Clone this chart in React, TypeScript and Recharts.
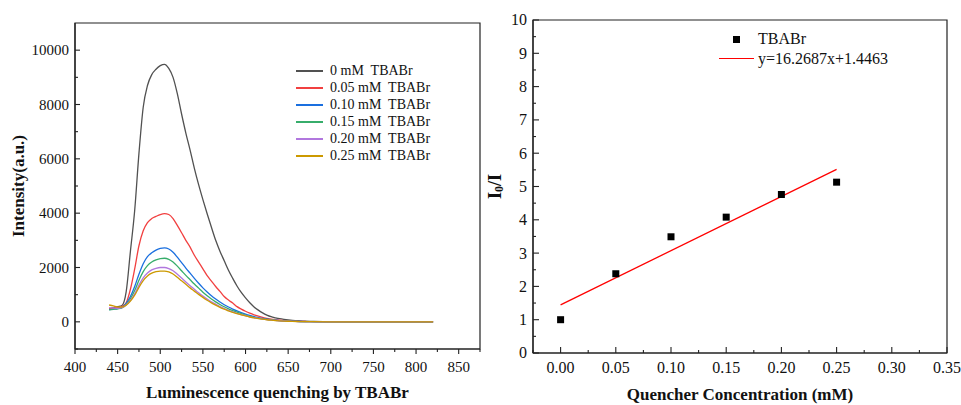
import React from "react";
import {
  LineChart,
  Line,
  XAxis,
  YAxis,
  ZAxis,
  ReferenceArea,
  Legend,
  ComposedChart,
  Scatter,
} from "recharts";

const FONT = "Liberation Serif, Times New Roman, serif";
const AXIS = "#222";

// emission spectra, intensity vs wavelength (nm)
const WAVELENGTHS = [
  440, 445, 450, 455, 460, 465, 470, 475, 480, 485, 490, 495, 500, 505, 510,
  515, 520, 525, 530, 535, 540, 545, 550, 555, 560, 565, 570, 575, 580, 585,
  590, 595, 600, 605, 610, 615, 620, 625, 630, 635, 640, 645, 650, 655, 660,
  670, 680, 700, 720, 750, 780, 820,
];
const I_000 = [
  470, 520, 560, 600, 1100, 2600, 4100, 6200, 7900, 8700, 9100, 9300, 9430,
  9480, 9330, 9000, 8400, 7650, 6950, 6320, 5650, 5050, 4500, 3980, 3480, 3000,
  2600, 2250, 1900, 1600, 1320, 1080, 880, 700, 550, 430, 330, 250, 190, 150,
  115, 90, 70, 55, 45, 25, 12, 5, 2, 1, 0, 0,
];
const I_005 = [
  470, 500, 520, 560, 700, 1200, 1950, 2800, 3350, 3650, 3800, 3880, 3950,
  3985, 3950, 3800, 3550, 3280, 3000, 2750, 2450, 2200, 1950, 1700, 1500, 1300,
  1120, 930, 800, 690, 560, 470, 390, 320, 260, 210, 165, 130, 100, 78, 60, 45,
  34, 26, 20, 12, 6, 3, 1, 1, 0, 0,
];
const I_010 = [
  450, 470, 490, 520, 680, 930, 1300, 1750, 2140, 2400, 2540, 2640, 2700, 2720,
  2680, 2560, 2380, 2180, 1980, 1790, 1600, 1420, 1250, 1100, 960, 840, 730,
  630, 545, 470, 400, 340, 285, 235, 190, 155, 125, 100, 78, 62, 48, 37, 28, 21,
  16, 9, 5, 2, 1, 0, 0, 0,
];
const I_015 = [
  440, 460, 480, 510, 640, 850, 1150, 1530, 1850, 2070, 2200, 2280, 2330, 2340,
  2300, 2200, 2050, 1880, 1710, 1550, 1390, 1240, 1090, 960, 840, 735, 640, 555,
  480, 415, 355, 300, 250, 205, 168, 137, 110, 88, 70, 55, 43, 33, 25, 19, 14,
  8, 4, 2, 1, 0, 0, 0,
];
const I_020 = [
  520, 510, 500, 520, 620, 790, 1030, 1350, 1620, 1800, 1910, 1970, 2000, 2000,
  1960, 1880, 1750, 1610, 1470, 1330, 1200, 1070, 950, 840, 740, 650, 565, 490,
  425, 365, 315, 268, 225, 185, 152, 124, 100, 80, 64, 51, 40, 31, 23, 17, 13,
  7, 4, 2, 1, 0, 0, 0,
];
const I_025 = [
  620, 590, 550, 540, 610, 760, 980, 1270, 1520, 1690, 1790, 1845, 1870, 1870,
  1835, 1760, 1640, 1510, 1380, 1250, 1130, 1010, 900, 795, 700, 615, 535, 465,
  405, 348, 300, 256, 215, 178, 146, 119, 96, 77, 62, 49, 38, 29, 22, 16, 12, 7,
  4, 2, 1, 0, 0, 0,
];

const SERIES = [
  { key: "c000", label: "0 mM  TBABr", color: "#515151", values: I_000 },
  { key: "c005", label: "0.05 mM  TBABr", color: "#F14040", values: I_005 },
  { key: "c010", label: "0.10 mM  TBABr", color: "#1A6FDF", values: I_010 },
  { key: "c015", label: "0.15 mM  TBABr", color: "#37AD6B", values: I_015 },
  { key: "c020", label: "0.20 mM  TBABr", color: "#B177DE", values: I_020 },
  { key: "c025", label: "0.25 mM  TBABr", color: "#CC9900", values: I_025 },
];

const SPEC_X_MAJOR = [400, 450, 500, 550, 600, 650, 700, 750, 800, 850];
const SPEC_X_MINOR = [425, 475, 525, 575, 625, 675, 725, 775, 825, 875];
const SPEC_Y_MAJOR = [0, 2000, 4000, 6000, 8000, 10000];
const SPEC_Y_MINOR = [-1000, 1000, 3000, 5000, 7000, 9000];

// Stern-Volmer plot
const CONC = [0, 0.05, 0.1, 0.15, 0.2, 0.25];
const RATIO = [1.0, 2.38, 3.49, 4.08, 4.76, 5.13];
const SLOPE = 16.2687;
const INTERCEPT = 1.4463;

const SV_X_MAJOR = [0, 0.05, 0.1, 0.15, 0.2, 0.25, 0.3, 0.35];
const SV_X_MINOR = [-0.025, 0.025, 0.075, 0.125, 0.175, 0.225, 0.275, 0.325];
const SV_Y_MAJOR = [0, 1, 2, 3, 4, 5, 6, 7, 8, 9, 10];
const SV_Y_MINOR = [0.5, 1.5, 2.5, 3.5, 4.5, 5.5, 6.5, 7.5, 8.5, 9.5];

const spectra = WAVELENGTHS.map((w, i) => {
  const row: Record<string, number> = { w };
  SERIES.forEach((s) => (row[s.key] = s.values[i]));
  return row;
});
const svPoints = CONC.map((x, i) => ({ x, y: RATIO[i] }));
const fitLine = [0, 0.25].map((x) => ({ x, y: SLOPE * x + INTERCEPT }));

// tick lines + labels drawn by hand so major/minor and in/out can differ
type TickCfg = {
  side: "bottom" | "left";
  majors: number[];
  inward: boolean;
  majorLen: number;
  minorLen: number;
  gap: number;
  fontSize: number;
  fmt: (v: number) => string;
};

function makeTick(cfg: TickCfg) {
  return (props: any) => {
    const { x, y, payload } = props;
    const v = payload.value as number;
    const major = cfg.majors.some((m) => Math.abs(m - v) < 1e-9);
    const len = major ? cfg.majorLen : cfg.minorLen;
    const textProps = {
      fontFamily: FONT,
      fontSize: cfg.fontSize,
      fill: "#111",
      stroke: "none",
    };
    if (cfg.side === "bottom") {
      const y2 = y + (cfg.inward ? -len : len);
      return (
        <g>
          <line x1={x} x2={x} y1={y} y2={y2} stroke={AXIS} strokeWidth={1.1} />
          {major && (
            <text x={x} y={y + cfg.gap} textAnchor="middle" {...textProps}>
              {cfg.fmt(v)}
            </text>
          )}
        </g>
      );
    }
    const x2 = x + (cfg.inward ? len : -len);
    return (
      <g>
        <line x1={x} x2={x2} y1={y} y2={y} stroke={AXIS} strokeWidth={1.1} />
        {major && (
          <text
            x={x - cfg.gap}
            y={y + cfg.fontSize * 0.34}
            textAnchor="end"
            {...textProps}
          >
            {cfg.fmt(v)}
          </text>
        )}
      </g>
    );
  };
}

const specXTick = makeTick({
  side: "bottom",
  majors: SPEC_X_MAJOR,
  inward: false,
  majorLen: 5,
  minorLen: 3,
  gap: 23,
  fontSize: 15,
  fmt: (v) => String(v),
});
const specYTick = makeTick({
  side: "left",
  majors: SPEC_Y_MAJOR,
  inward: true,
  majorLen: 5,
  minorLen: 3,
  gap: 6,
  fontSize: 15,
  fmt: (v) => String(v),
});
const svXTick = makeTick({
  side: "bottom",
  majors: SV_X_MAJOR,
  inward: true,
  majorLen: 6,
  minorLen: 3,
  gap: 20,
  fontSize: 16,
  fmt: (v) => v.toFixed(2),
});
const svYTick = makeTick({
  side: "left",
  majors: SV_Y_MAJOR,
  inward: true,
  majorLen: 6,
  minorLen: 3,
  gap: 6,
  fontSize: 16,
  fmt: (v) => String(v),
});

const titleStyle = {
  fontFamily: FONT,
  fontWeight: 700,
  fontSize: 17,
  fill: "#111",
};

const XTitle = ({ viewBox, text, drop }: any) => (
  <text
    x={viewBox.x + viewBox.width / 2}
    y={viewBox.y + viewBox.height - drop}
    textAnchor="middle"
    style={titleStyle}
  >
    {text}
  </text>
);

const SpecYTitle = ({ viewBox }: any) => (
  <text
    transform={`translate(18.5,${viewBox.y + viewBox.height / 2}) rotate(-90)`}
    textAnchor="middle"
    dominantBaseline="central"
    style={titleStyle}
  >
    Intensity(a.u.)
  </text>
);

const SvYTitle = ({ viewBox }: any) => (
  <text
    transform={`translate(15,${viewBox.y + viewBox.height / 2}) rotate(-90)`}
    textAnchor="middle"
    dominantBaseline="central"
    style={{ ...titleStyle, fontSize: 18 }}
  >
    I
    <tspan dy={4} fontSize={12}>
      0
    </tspan>
    <tspan dy={-4}>/I</tspan>
  </text>
);

const SpecLegend = () => (
  <div style={{ fontFamily: FONT, fontSize: 14, color: "#111" }}>
    {SERIES.map((s) => (
      <div
        key={s.key}
        style={{ display: "flex", alignItems: "center", height: 17 }}
      >
        <div
          style={{
            width: 27,
            height: 2,
            background: s.color,
            marginRight: 7,
            flexShrink: 0,
          }}
        />
        <span style={{ whiteSpace: "pre" }}>{s.label}</span>
      </div>
    ))}
  </div>
);

const SvLegend = () => (
  <div style={{ fontFamily: FONT, fontSize: 16, color: "#111" }}>
    <div style={{ display: "flex", alignItems: "center", height: 19.4 }}>
      <div
        style={{
          width: 35,
          marginRight: 4,
          display: "flex",
          justifyContent: "center",
          flexShrink: 0,
        }}
      >
        <div style={{ width: 7, height: 7, background: "#000" }} />
      </div>
      <span>TBABr</span>
    </div>
    <div style={{ display: "flex", alignItems: "center", height: 19.4 }}>
      <div
        style={{
          width: 35,
          height: 1.5,
          background: "#ff0000",
          marginRight: 4,
          flexShrink: 0,
        }}
      />
      <span>y=16.2687x+1.4463</span>
    </div>
  </div>
);

function SpectraChart() {
  return (
    <LineChart
      width={481}
      height={405}
      data={spectra}
      margin={{ top: 23, right: 1, left: 15, bottom: 0 }}
    >
      <ReferenceArea
        x1={400}
        x2={875}
        y1={-1000}
        y2={11000}
        fill="none"
        stroke={AXIS}
        strokeWidth={1.2}
      />
      <XAxis
        dataKey="w"
        type="number"
        domain={[400, 875]}
        ticks={[...SPEC_X_MAJOR, ...SPEC_X_MINOR].sort((a, b) => a - b)}
        interval={0}
        height={56}
        tickSize={0}
        tickMargin={0}
        tickLine={false}
        tick={specXTick}
        axisLine={{ stroke: AXIS, strokeWidth: 1.2 }}
        label={<XTitle text="Luminescence quenching by TBABr" drop={7} />}
      />
      <YAxis
        type="number"
        domain={[-1000, 11000]}
        ticks={[...SPEC_Y_MAJOR, ...SPEC_Y_MINOR].sort((a, b) => a - b)}
        interval={0}
        width={60}
        tickSize={0}
        tickMargin={0}
        tickLine={false}
        tick={specYTick}
        axisLine={{ stroke: AXIS, strokeWidth: 1.2 }}
        label={<SpecYTitle />}
      />
      {SERIES.map((s) => (
        <Line
          key={s.key}
          dataKey={s.key}
          type="monotone"
          stroke={s.color}
          strokeWidth={1.3}
          dot={false}
          isAnimationActive={false}
        />
      ))}
      <Legend
        layout="vertical"
        align="center"
        verticalAlign="middle"
        content={() => <SpecLegend />}
        wrapperStyle={{ left: 296, top: 62, width: 170 }}
      />
    </LineChart>
  );
}

function SternVolmerChart() {
  return (
    <ComposedChart
      width={481}
      height={405}
      margin={{ top: 20, right: 14, left: 8, bottom: 0 }}
    >
      <ReferenceArea
        x1={-0.025}
        x2={0.35}
        y1={0}
        y2={10}
        fill="none"
        stroke={AXIS}
        strokeWidth={1.2}
      />
      <XAxis
        dataKey="x"
        type="number"
        domain={[-0.025, 0.35]}
        ticks={[...SV_X_MAJOR, ...SV_X_MINOR].sort((a, b) => a - b)}
        interval={0}
        height={52}
        tickSize={0}
        tickMargin={0}
        tickLine={false}
        tick={svXTick}
        axisLine={{ stroke: AXIS, strokeWidth: 1.2 }}
        label={<XTitle text="Quencher Concentration (mM)" drop={5} />}
      />
      <YAxis
        type="number"
        domain={[0, 10]}
        ticks={[...SV_Y_MAJOR, ...SV_Y_MINOR].sort((a, b) => a - b)}
        interval={0}
        width={45}
        tickSize={0}
        tickMargin={0}
        tickLine={false}
        tick={svYTick}
        axisLine={{ stroke: AXIS, strokeWidth: 1.2 }}
        label={<SvYTitle />}
      />
      <ZAxis range={[49, 49]} />
      <Line
        data={fitLine}
        dataKey="y"
        type="linear"
        stroke="#ff0000"
        strokeWidth={1.3}
        dot={false}
        isAnimationActive={false}
      />
      <Scatter
        data={svPoints}
        dataKey="y"
        fill="#000"
        shape="square"
        isAnimationActive={false}
      />
      <Legend
        layout="vertical"
        align="center"
        verticalAlign="middle"
        content={() => <SvLegend />}
        wrapperStyle={{ left: 239, top: 29.6, width: 180 }}
      />
    </ComposedChart>
  );
}

export default function App() {
  return (
    <div
      style={{
        position: "absolute",
        left: 0,
        top: 0,
        width: 961,
        height: 405,
        background: "#fff",
      }}
    >
      <div style={{ position: "absolute", left: 0, top: 0 }}>
        <SpectraChart />
      </div>
      <div style={{ position: "absolute", left: 480, top: 0 }}>
        <SternVolmerChart />
      </div>
    </div>
  );
}
